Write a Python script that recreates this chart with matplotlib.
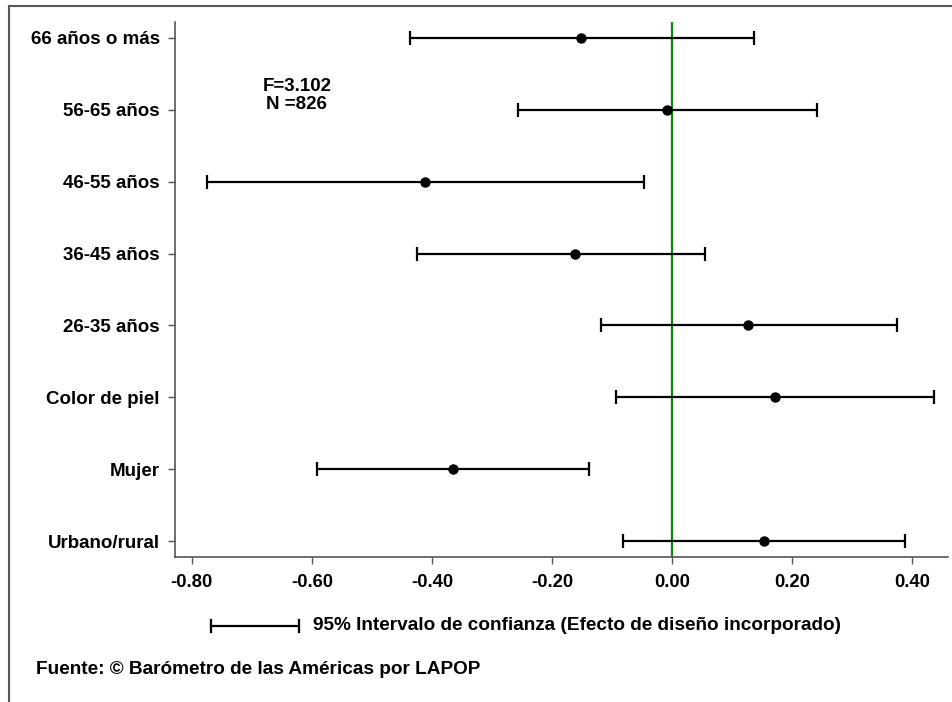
import numpy as np
import matplotlib.pyplot as plt
from matplotlib.lines import Line2D

# coefficient estimates with 95% CI (bottom to top)
categorias = ["Urbano/rural", "Mujer", "Color de piel", "26-35 años",
              "36-45 años", "46-55 años", "56-65 años", "66 años o más"]
coef = [0.153, -0.364, 0.172, 0.127, -0.162, -0.412, -0.009, -0.152]
ci_low = [-0.081, -0.592, -0.093, -0.118, -0.424, -0.774, -0.257, -0.437]
ci_high = [0.389, -0.138, 0.436, 0.375, 0.055, -0.047, 0.241, 0.136]
xticks = [-0.80, -0.60, -0.40, -0.20, 0.00, 0.20, 0.40]

sans = ['Liberation Sans', 'DejaVu Sans']
gris = '#555555'

fig = plt.figure(figsize=(9.52, 7.02), dpi=100)
W, H = 952, 702
ax = fig.add_axes([175 / W, 1 - 557 / H, (948 - 175) / W, (557 - 22) / H])

y = np.arange(len(categorias))
coef = np.array(coef)
err = np.vstack([coef - np.array(ci_low), np.array(ci_high) - coef])

ax.axvline(0, color='#0a8a0a', lw=1.6, zorder=1)
ax.errorbar(coef, y, xerr=err, fmt='o', color='black', ms=6.5, lw=1.6,
            capsize=5, capthick=1.6, zorder=3)

ax.set_xlim(-0.828, 0.46)
ax.set_ylim(-0.22, 7.22)
ax.set_yticks(y)
ax.set_yticklabels(categorias, fontsize=13.5, fontweight='bold', family=sans)
ax.set_xticks(xticks)
ax.set_xticklabels([f"{v:.2f}" for v in xticks], fontsize=13.3,
                   fontweight='bold', family=sans)

for s in ['top', 'right']:
    ax.spines[s].set_visible(False)
for s in ['left', 'bottom']:
    ax.spines[s].set_color(gris)
    ax.spines[s].set_linewidth(1.2)
ax.tick_params(axis='y', colors=gris, length=5, width=1, labelcolor='black', pad=6)
ax.tick_params(axis='x', colors=gris, length=5, width=1, labelcolor='black', pad=7)

ax.text(-0.625, 6.2, "F=3.102\nN =826", ha='center', va='center',
        fontsize=13.5, fontweight='bold', family=sans, linespacing=1.05)

# legend of the interval
ly = 1 - 626 / H
fig.add_artist(Line2D([211 / W, 299 / W], [ly, ly], color='black', lw=1.6))
for xc in (211, 299):
    fig.add_artist(Line2D([xc / W, xc / W], [ly - 6 / H, ly + 6 / H],
                          color='black', lw=1.6))
fig.text(313 / W, ly, "95% Intervalo de confianza (Efecto de diseño incorporado)",
         ha='left', va='center', fontsize=13.7, fontweight='bold', family=sans)

fig.text(36 / W, 1 - 669 / H, "Fuente: © Barómetro de las Américas por LAPOP",
         ha='left', va='center', fontsize=13.7, fontweight='bold', family=sans)

# outer frame (top and left)
fig.add_artist(Line2D([9 / W, 1], [1 - 5.5 / H, 1 - 5.5 / H], color=gris, lw=1.5))
fig.add_artist(Line2D([9 / W, 9 / W], [0, 1 - 5.5 / H], color=gris, lw=1.5))

plt.savefig('out.png', dpi=100)
